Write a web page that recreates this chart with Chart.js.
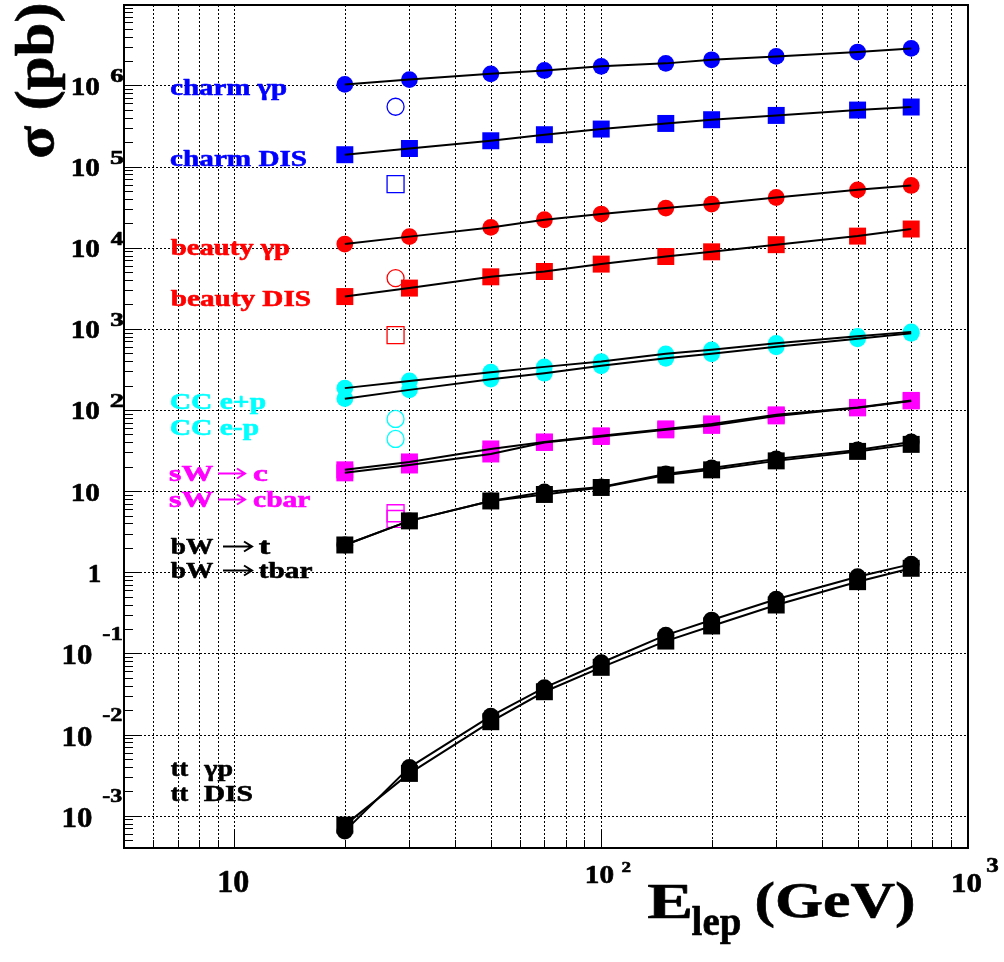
<!DOCTYPE html>
<html>
<head>
<meta charset="utf-8">
<script src="https://cdn.jsdelivr.net/npm/chart.js@4.4.1/dist/chart.umd.min.js"></script>
<style>
    html, body { margin: 0; padding: 0; background: #fff; }
    canvas { display: block; }
</style>
</head>
<body>
<canvas id="myChart" width="1004" height="962"></canvas>
<script>
// lepton beam energies (GeV)
var energies = [20, 30, 50, 70, 100, 150, 200, 300, 500, 700];
var heraEnergy = 27.5;

// cross sections (pb)
var charmGp   = [1.03e6, 1.18e6, 1.39e6, 1.53e6, 1.72e6, 1.87e6, 2.07e6, 2.28e6, 2.58e6, 2.86e6];
var charmDis  = [1.40e5, 1.67e5, 2.08e5, 2.47e5, 2.90e5, 3.40e5, 3.78e5, 4.27e5, 4.97e5, 5.42e5];
var beautyGp  = [1.11e4, 1.37e4, 1.78e4, 2.21e4, 2.60e4, 3.08e4, 3.45e4, 4.16e4, 5.17e4, 5.85e4];
var beautyDis = [2500, 3180, 4380, 5090, 6280, 7790, 8900, 10900, 13900, 17000];
var ccEminus  = [186, 228, 292, 340, 395, 492, 551, 663, 808, 918];
var ccEplus   = [138, 177, 240, 284, 350, 433, 492, 600, 753, 880];
var sWc       = [18.3, 22.9, 33.1, 40.4, 48.0, 58.5, 67.4, 87.1, 107.7, 131.3];
var sWcbar    = [16.8, 21.0, 28.7, 39.8, 47.2, 56.9, 64.6, 84.6, 106.2, 129.5];
var bWt       = [2.17, 4.30, 7.57, 9.78, 11.27, 16.3, 19.3, 24.9, 32.2, 40.4];
var bWtbar    = [2.17, 4.30, 7.57, 9.10, 11.1, 15.8, 18.3, 23.6, 30.9, 37.7];
var ttGp      = [6.46e-4, 3.94e-3, 0.0169, 0.0378, 0.0768, 0.168, 0.258, 0.465, 0.883, 1.26];
var ttDis     = [7.66e-4, 3.32e-3, 0.0144, 0.0337, 0.0674, 0.142, 0.218, 0.395, 0.766, 1.12];

// HERA points (open markers)
var heraCharmGp = 5.46e5, heraCharmDis = 6.09e4;
var heraBeautyGp = 4220, heraBeautyDis = 836;
var heraCC = [77.6, 44];
var heraSW = [5.34, 4.54];

// axis ranges and tick labels
var xMin = 5, xMax = 1000;
var yMin = 4e-4, yMax = 9.8e6;
var yTickValues = [1e6, 1e5, 1e4, 1e3, 100, 10, 1, 0.1, 0.01, 0.001];
var yTickExps = ['6', '5', '4', '3', '2', '', '', '-1', '-2', '-3'];
var xTickValues = [10, 100, 1000];
var xTickExps = ['', '2', '3'];

var labelTexts = ['charm γp', 'charm DIS', 'beauty γp', 'beauty DIS', 'CC e+p', 'CC e-p',
    'sW → c', 'sW → cbar', 'bW → t', 'bW → tbar', 'tt  γp', 'tt  DIS'];

var BLUE = '#0000ff', RED = '#ff0000', CYAN = '#00ffff', MAG = '#ff00ff', BLACK = '#000000';
var FONT = '"Liberation Serif", "Times New Roman", Times, serif';

// label layout: baseline y, colour, then [left x, ink width] for each word group
var labelLayout = [
    [95, BLUE, [[171, 115]]], [166, BLUE, [[171, 135]]],
    [255, RED, [[171, 118]]], [306, RED, [[171, 139]]],
    [409, CYAN, [[171, 94]]], [435, CYAN, [[171, 87]]],
    [481, MAG, [[170, 43], [218, 27], [254, 13]]],
    [507, MAG, [[170, 43], [218, 27], [254, 56]]],
    [554, BLACK, [[171, 42], [223, 29], [259, 11]]],
    [578, BLACK, [[171, 42], [223, 29], [259, 53]]],
    [776, BLACK, [[171, 17], [204, 28]]],
    [801, BLACK, [[171, 17], [204, 48]]]
];

function toPts(vals) {
    return energies.map(function (e, i) { return {x: e, y: vals[i]}; });
}

var series = [
    {vals: charmGp, color: BLUE, marker: 'circle'},
    {vals: charmDis, color: BLUE, marker: 'rect'},
    {vals: beautyGp, color: RED, marker: 'circle'},
    {vals: beautyDis, color: RED, marker: 'rect'},
    {vals: ccEminus, color: CYAN, marker: 'circle'},
    {vals: ccEplus, color: CYAN, marker: 'circle'},
    {vals: sWc, color: MAG, marker: 'rect'},
    {vals: sWcbar, color: MAG, marker: 'rect'},
    {vals: bWt, color: BLACK, marker: 'circle'},
    {vals: bWtbar, color: BLACK, marker: 'rect'},
    {vals: ttGp, color: BLACK, marker: 'circle'},
    {vals: ttDis, color: BLACK, marker: 'rect'}
];

var datasets = [];
series.forEach(function (s, i) {
    datasets.push({
        label: labelTexts[i],
        data: toPts(s.vals),
        showLine: false,
        pointStyle: s.marker,
        pointRadius: s.marker === 'circle' ? 8.4 : 12,
        pointBackgroundColor: s.color,
        pointBorderWidth: 0,
        order: s.marker === 'circle' ? 3 : 2
    });
    datasets.push({
        label: labelTexts[i] + ' curve',
        data: toPts(s.vals),
        showLine: true,
        borderColor: '#000',
        borderWidth: 2,
        pointRadius: 0,
        tension: 0,
        order: 1
    });
});

var hera = [
    {y: heraCharmGp, color: BLUE, marker: 'circle'},
    {y: heraCharmDis, color: BLUE, marker: 'rect'},
    {y: heraBeautyGp, color: RED, marker: 'circle'},
    {y: heraBeautyDis, color: RED, marker: 'rect'},
    {y: heraCC[0], color: CYAN, marker: 'circle'},
    {y: heraCC[1], color: CYAN, marker: 'circle'},
    {y: heraSW[0], color: MAG, marker: 'rect'},
    {y: heraSW[1], color: MAG, marker: 'rect'}
];
hera.forEach(function (h) {
    datasets.push({
        label: 'HERA',
        data: [{x: heraEnergy, y: h.y}],
        showLine: false,
        pointStyle: h.marker,
        pointRadius: h.marker === 'circle' ? 8.5 : 12,
        pointBackgroundColor: 'rgba(0,0,0,0)',
        pointBorderColor: h.color,
        pointBorderWidth: 1.3,
        order: 2
    });
});

// draw bold serif text, ink scaled to a given width and cap height
function fitText(ctx, str, x, y, capH, w, color, refChar) {
    ctx.save();
    ctx.font = 'bold 100px ' + FONT;
    ctx.fillStyle = color;
    ctx.strokeStyle = color;
    ctx.textAlign = 'left';
    ctx.textBaseline = 'alphabetic';
    var m = ctx.measureText(str);
    var ink = m.actualBoundingBoxLeft + m.actualBoundingBoxRight;
    var cap = ctx.measureText(refChar || 'H').actualBoundingBoxAscent;
    var sx = w / ink, sy = capH / cap;
    ctx.translate(x + m.actualBoundingBoxLeft * sx, y);
    ctx.scale(sx, sy);
    ctx.fillText(str, 0, 0);
    ctx.lineWidth = 0.6 / sy;
    ctx.lineJoin = 'round';
    ctx.strokeText(str, 0, 0);
    ctx.restore();
}

function drawArrow(ctx, x, y, w, color) {
    ctx.save();
    ctx.strokeStyle = color;
    ctx.lineWidth = 2;
    ctx.beginPath();
    ctx.moveTo(x, y);
    ctx.lineTo(x + w, y);
    ctx.moveTo(x + w - 8, y - 5);
    ctx.lineTo(x + w, y);
    ctx.lineTo(x + w - 8, y + 5);
    ctx.stroke();
    ctx.restore();
}

function seg(ctx, x1, y1, x2, y2) {
    ctx.beginPath();
    ctx.moveTo(x1, y1);
    ctx.lineTo(x2, y2);
    ctx.stroke();
}

var rootFrame = {
    id: 'rootFrame',
    beforeDatasetsDraw: function (chart) {
        var ctx = chart.ctx, a = chart.chartArea, xs = chart.scales.x, ys = chart.scales.y;
        ctx.save();
        ctx.strokeStyle = '#000';
        ctx.lineWidth = 1;
        ctx.setLineDash([2, 2]);
        // vertical grid at every x tick
        for (var e = 0; e <= 2; e++) {
            for (var m = 1; m <= 9; m++) {
                var v = m * Math.pow(10, e);
                if (v <= xMin || v >= xMax) continue;
                var px = Math.round(xs.getPixelForValue(v)) + 0.5;
                seg(ctx, px, a.top, px, a.bottom);
            }
        }
        // horizontal grid at decades
        yTickValues.forEach(function (v) {
            var py = Math.round(ys.getPixelForValue(v)) + 0.5;
            seg(ctx, a.left, py, a.right, py);
        });
        ctx.setLineDash([]);
        // y ticks
        for (var ey = -4; ey <= 6; ey++) {
            for (var my = 1; my <= 9; my++) {
                var vy = my * Math.pow(10, ey);
                if (vy < yMin || vy > yMax) continue;
                var py2 = Math.round(ys.getPixelForValue(vy)) + 0.5;
                seg(ctx, a.left, py2, a.left + (my === 1 ? 18 : 9), py2);
            }
        }
        // x ticks
        for (var ex = 0; ex <= 2; ex++) {
            for (var mx = 1; mx <= 9; mx++) {
                var vx = mx * Math.pow(10, ex);
                if (vx < xMin || vx >= xMax) continue;
                var px2 = Math.round(xs.getPixelForValue(vx)) + 0.5;
                seg(ctx, px2, a.bottom, px2, a.bottom - (mx === 1 ? 18 : 8));
            }
        }
        ctx.restore();
    },
    afterDraw: function (chart) {
        var ctx = chart.ctx, a = chart.chartArea, xs = chart.scales.x, ys = chart.scales.y;
        ctx.save();
        ctx.strokeStyle = '#000';
        ctx.lineWidth = 2;
        ctx.strokeRect(a.left, a.top, a.right - a.left, a.bottom - a.top);
        ctx.restore();

        // y tick labels
        yTickValues.forEach(function (v, i) {
            var py = ys.getPixelForValue(v);
            var ex = yTickExps[i];
            if (v === 1) {
                fitText(ctx, '1', 90, py + 9.5, 16.7, 10, BLACK, '1');
            } else if (ex === '') {
                fitText(ctx, '10', 73, py + 9.5, 16.7, 26, BLACK, '0');
            } else if (ex.charAt(0) === '-') {
                fitText(ctx, '10', 64, py + 11, 19.5, 27.5, BLACK, '0');
                fitText(ctx, ex, 103, py - 13.5, 12, 18.5, BLACK, '1');
            } else {
                fitText(ctx, '10', 73, py + 9.5, 16.7, 26, BLACK, '0');
                fitText(ctx, ex, 111, py - 3, 12, 12, BLACK, ex);
            }
        });
        // x tick labels
        fitText(ctx, '10', xs.getPixelForValue(xTickValues[0]) - 14.5, 892, 20.5, 28.5, BLACK, '0');
        fitText(ctx, '10', xs.getPixelForValue(xTickValues[1]) - 14, 883, 16, 26, BLACK, '0');
        fitText(ctx, xTickExps[1], xs.getPixelForValue(xTickValues[1]) + 21, 872, 10, 8, BLACK, '2');
        fitText(ctx, '10', xs.getPixelForValue(xTickValues[2]) - 14.5, 891.5, 18.4, 27.5, BLACK, '0');
        fitText(ctx, xTickExps[2], xs.getPixelForValue(xTickValues[2]) + 19, 871.5, 13.5, 11, BLACK, '3');

        // axis titles
        fitText(ctx, 'E', 648, 918, 33, 42, BLACK);
        fitText(ctx, 'lep', 692, 935, 27, 48, BLACK);
        fitText(ctx, '(GeV)', 757, 917, 33, 156, BLACK);
        ctx.save();
        ctx.translate(53, 157);
        ctx.rotate(-Math.PI / 2);
        fitText(ctx, 'σ (pb)', 0, 0, 36, 152, BLACK);
        ctx.restore();

        // series labels
        labelTexts.forEach(function (t, i) {
            var l = labelLayout[i];
            var words = t.indexOf('→') >= 0 ? t.split(' ') : t.split('  ');
            words.forEach(function (wd, j) {
                var p = l[2][j];
                if (wd === '→') {
                    drawArrow(ctx, p[0], l[0] - 7.5, p[1], l[1]);
                } else {
                    fitText(ctx, wd, p[0], l[0], 15.5, p[1], l[1]);
                }
            });
        });
    }
};

var ctx = document.getElementById('myChart').getContext('2d');
var myChart = new Chart(ctx, {
    type: 'scatter',
    data: {datasets: datasets},
    options: {
        responsive: false,
        animation: false,
        layout: {autoPadding: false, padding: {left: 124, right: 36, top: 5, bottom: 114}},
        scales: {
            x: {type: 'logarithmic', min: xMin, max: xMax, display: false},
            y: {type: 'logarithmic', min: yMin, max: yMax, display: false}
        },
        plugins: {
            legend: {display: false},
            tooltip: {enabled: false}
        }
    },
    plugins: [rootFrame]
});
</script>
</body>
</html>
